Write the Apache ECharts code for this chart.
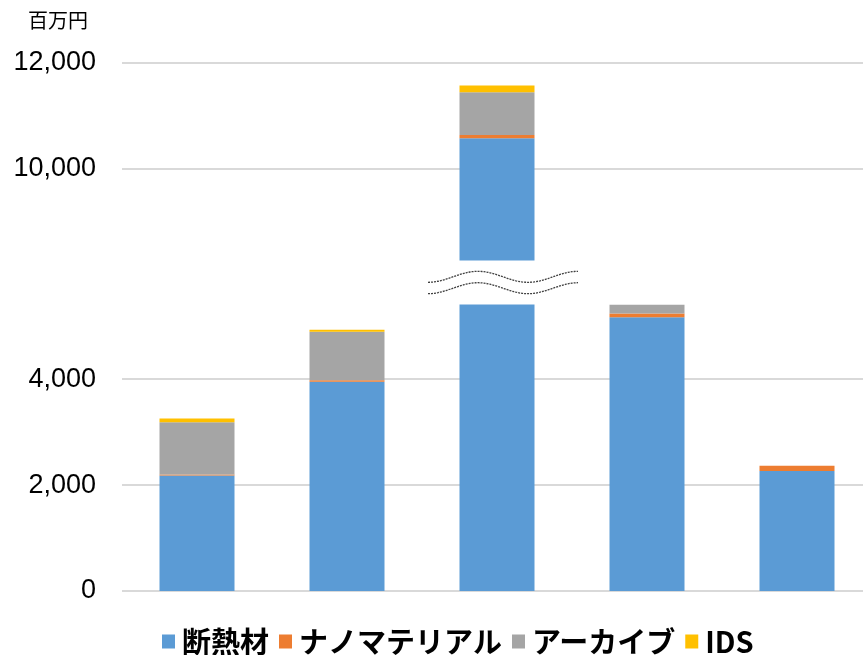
<!DOCTYPE html>
<html>
<head>
<meta charset="utf-8">
<script src="https://cdn.jsdelivr.net/npm/echarts@6.0.0/dist/echarts.min.js"></script>
<style>
  html, body { margin: 0; padding: 0; background: #fff; }
  #chart { width: 863px; height: 655px; }
</style>
</head>
<body>
<div id="chart"></div>
<script>
// 系列数据 (百万円)
var categories = ['1', '2', '3', '4', '5'];
var insulation = [2180, 3950, 10580, 5170, 2265];   // 断熱材
var nano = [20, 30, 62, 70, 100];                   // ナノマテリアル
var archive = [985, 915, 807, 170, 0];              // アーカイブ
var ids = [70, 38, 125, 0, 0];                      // IDS
var seriesNames = ['断熱材', 'ナノマテリアル', 'アーカイブ', 'IDS'];
var colors = ['#5B9BD5', '#ED7D31', '#A5A5A5', '#FFC000'];
var yTicks = [0, 2000, 4000, 10000, 12000];
var axisBreak = { start: 5410, end: 8270, gap: 830 };

var chart = echarts.init(document.getElementById('chart'));

function fmt(v) {
  return String(v).replace(/\B(?=(\d{3})+(?!\d))/g, ',');
}

var allData = [insulation, nano, archive, ids];
var series = seriesNames.map(function (name, i) {
  return {
    name: name,
    type: 'bar',
    stack: 'total',
    barWidth: '50%',
    itemStyle: { color: colors[i] },
    data: allData[i]
  };
});

chart.setOption({
  animation: false,
  color: colors,
  title: {
    text: '百万円',
    left: 23,
    top: 5,
    textStyle: { fontSize: 20, fontWeight: 'normal', color: '#000', fontFamily: 'Noto Sans CJK JP' }
  },
  legend: {
    data: seriesNames,
    left: 157,
    top: 622,
    icon: 'rect',
    itemWidth: 13,
    itemHeight: 14,
    itemGap: 10,
    selectedMode: false,
    textStyle: { fontSize: 29, fontWeight: 'bold', color: '#000', fontFamily: 'Noto Sans CJK JP', padding: [0, 0, 0, 2] }
  },
  grid: { left: 122, width: 750, top: 63, bottom: 64, containLabel: false, outerBoundsMode: 'none' },
  xAxis: {
    type: 'category',
    data: categories,
    axisLine: { show: false },
    axisTick: { show: false },
    axisLabel: { show: false }
  },
  yAxis: {
    type: 'value',
    min: 0,
    max: 12000,
    interval: 2000,
    breaks: [axisBreak],
    breakArea: {
      show: true,
      itemStyle: { color: '#fff', borderColor: 'rgba(0,0,0,0)', borderWidth: 0, opacity: 1 },
      zigzagAmplitude: 0
    },
    axisLine: { show: false },
    axisTick: { show: false, customValues: yTicks },
    splitLine: { lineStyle: { color: '#D9D9D9', width: 2 } },
    axisLabel: {
      margin: 26,
      fontSize: 27,
      color: '#000',
      fontFamily: 'Liberation Sans',
      customValues: yTicks,
      formatter: function (v) {
        return yTicks.indexOf(v) >= 0 ? fmt(v) : '';
      }
    }
  },
  series: series
});

// 断裂处的波浪线
function drawWaves() {
  var cx = chart.convertToPixel({ xAxisIndex: 0 }, categories[2]);
  var half = (chart.convertToPixel({ xAxisIndex: 0 }, categories[3]) - cx) / 2;
  var x0 = cx - half + 6;
  var yLow = chart.convertToPixel({ yAxisIndex: 0 }, axisBreak.start);
  var yHigh = chart.convertToPixel({ yAxisIndex: 0 }, axisBreak.end);
  var mid = (yLow + yHigh) / 2;
  var elements = [-5.7, 5.7].map(function (off) {
    var pts = [];
    for (var x = x0; x <= x0 + 2 * half + 0.1; x += 2) {
      var t = (x - x0) / 100;
      pts.push([x, mid + off + 5.5 * Math.cos(t * 2 * Math.PI)]);
    }
    return {
      type: 'polyline',
      z: 100,
      shape: { points: pts },
      style: { stroke: '#404040', lineWidth: 1.3, lineDash: [2, 1], fill: null }
    };
  });
  chart.setOption({ graphic: elements });
}
drawWaves();
</script>
</body>
</html>
